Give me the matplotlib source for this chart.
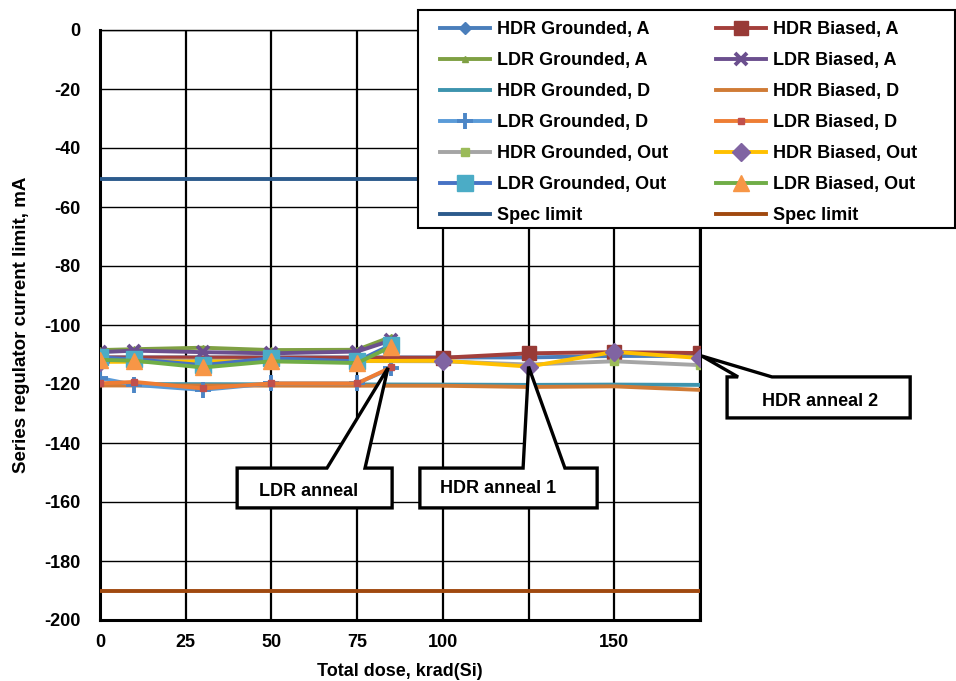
import matplotlib
matplotlib.use('Agg')
import matplotlib.pyplot as plt
from matplotlib.patches import Polygon, Rectangle

plt.rcParams['font.family'] = ['Liberation Sans', 'DejaVu Sans']
plt.rcParams['font.weight'] = 'bold'
plt.rcParams['axes.unicode_minus'] = False

# dose steps (krad(Si))
hdr_dose = [0, 100, 125, 150, 175]
ldr_dose = [0, 10, 30, 50, 75, 85]
spec_dose = [0, 175]

# HDR series
hdr_grounded_a = [-111.0, -111.0, -111.0, -110.5, -110.5]
hdr_biased_a = [-111.0, -111.1, -109.6, -109.2, -109.5]
hdr_grounded_d = [-120.0, -120.2, -120.3, -120.2, -120.3]
hdr_biased_d = [-120.5, -120.6, -121.0, -120.8, -122.0]
hdr_grounded_out = [-112.0, -112.3, -113.4, -112.3, -113.6]
hdr_biased_out = [-112.5, -112.1, -114.1, -109.1, -111.2]

# LDR series
ldr_grounded_a = [-108.5, -108.2, -107.7, -108.5, -108.4, -104.0]
ldr_biased_a = [-109.2, -108.7, -109.2, -109.6, -109.0, -105.2]
ldr_grounded_d = [-118.0, -120.3, -122.0, -119.8, -119.8, -114.6]
ldr_biased_d = [-119.8, -119.3, -121.5, -119.8, -119.8, -114.3]
ldr_grounded_out = [-111.0, -111.6, -113.6, -111.3, -112.3, -106.7]
ldr_biased_out = [-111.8, -112.1, -114.4, -112.3, -112.9, -107.3]

spec_upper = [-50.5, -50.5]
spec_lower = [-190, -190]

fs = 13
W, H = 956, 681

fig = plt.figure(figsize=(W / 100, H / 100), dpi=100)
ax = fig.add_axes([100/W, 1 - 620/H, 600/W, 590/H])

lw = 2.8
series = [
    # label, x, y, line colour, marker, marker size, marker colour
    ('HDR Grounded, A', hdr_dose, hdr_grounded_a, '#4A7EBB', 'D', 6, '#4A7EBB'),
    ('HDR Biased, A', hdr_dose, hdr_biased_a, '#A33F3B', 's', 10, '#983A36'),
    ('LDR Grounded, A', ldr_dose, ldr_grounded_a, '#7FA043', '^', 5, '#7FA043'),
    ('LDR Biased, A', ldr_dose, ldr_biased_a, '#6B4F8E', 'x', 8, '#6B4F8E'),
    ('HDR Grounded, D', hdr_dose, hdr_grounded_d, '#3D94AE', None, 0, None),
    ('HDR Biased, D', hdr_dose, hdr_biased_d, '#D07B36', None, 0, None),
    ('LDR Grounded, D', ldr_dose, ldr_grounded_d, '#5A9BD8', '+', 11, '#4C86C6'),
    ('LDR Biased, D', ldr_dose, ldr_biased_d, '#EE7D34', 's', 5, '#C0504D'),
    ('HDR Grounded, Out', hdr_dose, hdr_grounded_out, '#A5A5A5', 's', 6, '#9BBB59'),
    ('HDR Biased, Out', hdr_dose, hdr_biased_out, '#FFC000', 'D', 9, '#8064A2'),
    ('LDR Grounded, Out', ldr_dose, ldr_grounded_out, '#4672C4', 's', 11, '#4BACC6'),
    ('LDR Biased, Out', ldr_dose, ldr_biased_out, '#70AD47', '^', 11, '#F79646'),
    ('Spec limit', spec_dose, spec_upper, '#2C5B8C', None, 0, None),
    ('Spec limit', spec_dose, spec_lower, '#A0490F', None, 0, None),
]

handles = []
for i, (label, xs, ys, col, mk, ms, mcol) in enumerate(series):
    kw = {}
    if mk is not None:
        kw = dict(marker=mk, markersize=ms, markerfacecolor=mcol,
                  markeredgecolor=mcol, markeredgewidth=2.8 if mk in ('x', '+') else 1)
    h, = ax.plot(xs, ys, color=col, linewidth=lw, label=label,
                 zorder=3 + i * 0.1, solid_joinstyle='round', **kw)
    handles.append(h)

ax.set_xlim(0, 175)
ax.set_ylim(-200, 0)
ax.set_xticks([0, 25, 50, 75, 100, 125, 150, 175])
ax.set_xticklabels(['0', '25', '50', '75', '100', '', '150', ''])
ax.set_yticks(range(-200, 1, 20))
ax.tick_params(axis='both', length=0, labelsize=fs)
ax.tick_params(axis='x', pad=10)
ax.tick_params(axis='y', pad=14)
for t in ax.get_xticklabels() + ax.get_yticklabels():
    t.set_fontweight('bold')
ax.xaxis.grid(True, color='black', linewidth=1.6)
ax.yaxis.grid(True, color='black', linewidth=1.0)
ax.set_axisbelow(True)
for side in ['left', 'bottom', 'right']:
    ax.spines[side].set_linewidth(2.2)
ax.spines['top'].set_linewidth(1.0)

ax.set_xlabel('Total dose, krad(Si)', fontsize=fs, fontweight='bold', labelpad=9)
ax.set_ylabel('Series regulator current limit, mA', fontsize=fs + 0.5, fontweight='bold', labelpad=10)

# legend frame drawn by hand so it can run to the right edge like the original
frame = Rectangle((418/W, 1 - 228/H), 537/W, 218/H, transform=fig.transFigure,
                  facecolor='white', edgecolor='black', linewidth=1.5, zorder=19)
fig.patches.append(frame)

# two columns, filled row by row like the original
order = list(range(0, 14, 2)) + list(range(1, 14, 2))
leg = fig.legend([handles[k] for k in order], [series[k][0] for k in order],
                 ncol=2, loc='upper left', bbox_to_anchor=(440/W, 1 - 21/H),
                 bbox_transform=fig.transFigure, borderaxespad=0, borderpad=0,
                 frameon=False, handlelength=2.78, handletextpad=0.39,
                 labelspacing=0.78, columnspacing=2.65,
                 prop={'weight': 'bold', 'size': fs})
leg.set_zorder(20)


# callout boxes (data coords): box x0, x1, y_top, y_bot, wedge base x, tip
def callout(x0, x1, ytop, ybot, w1, w2, tip, text, tx, ty):
    pts = [(x0, ytop), (w1, ytop), tip, (w2, ytop), (x1, ytop), (x1, ybot), (x0, ybot)]
    poly = Polygon(pts, closed=True, facecolor='white', edgecolor='black',
                   linewidth=2.4, joinstyle='miter', clip_on=False, zorder=15)
    ax.add_patch(poly)
    ax.text(tx, ty, text, fontsize=fs, fontweight='bold', ha='center', va='center',
            zorder=16, clip_on=False)


callout(40.0, 85.2, -148.5, -162.0, 66.2, 77.3, (84.0, -114.5), 'LDR anneal', 60.7, -156.5)
callout(93.3, 145.0, -148.5, -162.0, 123.4, 135.6, (125.0, -114.1), 'HDR anneal 1', 116.0, -155.5)
callout(182.9, 236.3, -117.6, -131.5, 186.1, 196.0, (175.5, -110.5), 'HDR anneal 2', 210.0, -126.0)

fig.savefig('out.png', dpi=100)
